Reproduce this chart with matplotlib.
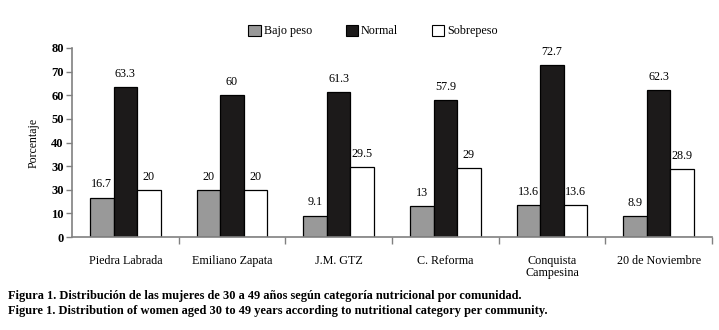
import matplotlib
matplotlib.use("Agg")
import matplotlib.pyplot as plt
from matplotlib.patches import Patch
import numpy as np

categories = ["Piedra Labrada", "Emiliano Zapata", "J.M. GTZ", "C. Reforma",
              "Conquista\nCampesina", "20 de Noviembre"]
bajo_peso = [16.7, 20, 9.1, 13, 13.6, 8.9]
normal = [63.3, 60, 61.3, 57.9, 72.7, 62.3]
sobrepeso = [20, 20, 29.5, 29, 13.6, 28.9]
bajo_labels = ["16.7", "20", "9.1", "13", "13.6", "8.9"]
normal_labels = ["63.3", "60", "61.3", "57.9", "72.7", "62.3"]
sobre_labels = ["20", "20", "29.5", "29", "13.6", "28.9"]
series_names = ["Bajo peso", "Normal", "Sobrepeso"]
ytick_values = [0, 10, 20, 30, 40, 50, 60, 70, 80]
ytick_labels = ["0", "10", "30", "30", "40", "50", "60", "70", "80"]

plt.rcParams['font.family'] = ['Liberation Serif', 'DejaVu Serif']

fig = plt.figure(figsize=(7.19, 3.30), dpi=100)
ax = fig.add_axes([72/719, 1-237/330, 640/719, 189/330])

x = np.arange(len(categories))
w = 0.22
colors = ["#999999", "#1c1a1a", "#ffffff"]
series = [bajo_peso, normal, sobrepeso]
labels = [bajo_labels, normal_labels, sobre_labels]
for i, (vals, labs, c) in enumerate(zip(series, labels, colors)):
    pos = x + (i - 1) * w
    ax.bar(pos, vals, width=w, color=c, edgecolor="black", linewidth=0.9)
    for p, v, t in zip(pos, vals, labs):
        ax.text(p, v + 3.0, t, ha="center", va="bottom", fontsize=8.7)

ax.set_xlim(-0.5, len(categories) - 0.5)
ax.set_ylim(0, 80)
ax.set_yticks(ytick_values)
ax.set_yticklabels(ytick_labels, fontsize=9, fontweight="bold")
ax.set_xticks(x)
ax.set_xticklabels(categories, fontsize=8.7, linespacing=1.0)
ax.tick_params(axis="x", length=0, pad=13)
ax.set_xticks(np.arange(len(categories)) + 0.5, minor=True)
ax.tick_params(axis="x", which="minor", length=5, color="#808080", width=1)
ax.tick_params(axis="y", length=4, color="#808080", width=1, pad=2)
for s in ["top", "right"]:
    ax.spines[s].set_visible(False)
for s in ["left", "bottom"]:
    ax.spines[s].set_color("#808080")
    ax.spines[s].set_linewidth(1.2)
ax.set_ylabel("Porcentaje", fontsize=8.5, labelpad=8)

handles = [Patch(facecolor=c, edgecolor="black", linewidth=0.8) for c in colors]
fig.legend(handles, series_names, loc="center", bbox_to_anchor=(373/719, 1-31/330),
           ncol=3, frameon=False, fontsize=8.7, handlelength=1.0, handleheight=1.0,
           handletextpad=0.25, columnspacing=2.8)

fig.text(8/719, 1-296/330, "Figura 1. Distribución de las mujeres de 30 a 49 años según categoría nutricional por comunidad.",
         fontsize=8.9, fontweight="bold", va="center", ha="left")
fig.text(8/719, 1-311/330, "Figure 1. Distribution of women aged 30 to 49 years according to nutritional category per community.",
         fontsize=8.9, fontweight="bold", va="center", ha="left")

fig.savefig("out.png", dpi=100)
